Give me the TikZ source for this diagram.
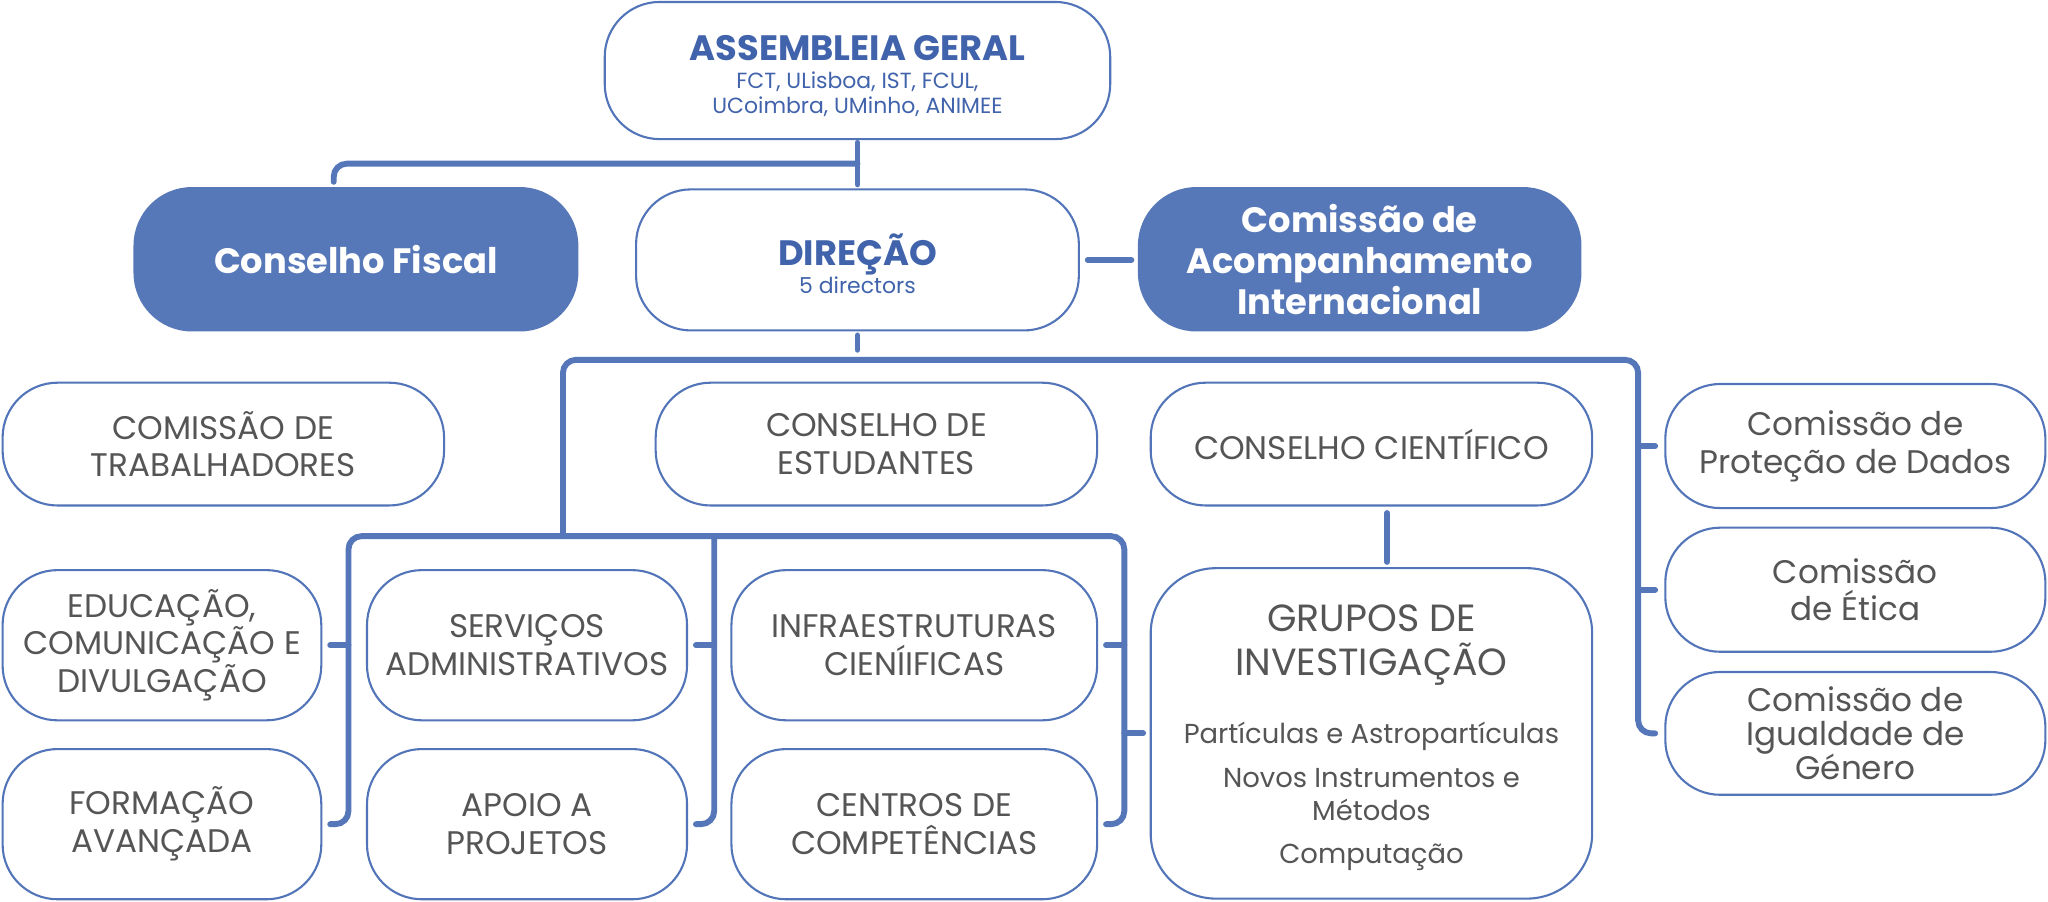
\documentclass[tikz,border=0pt]{standalone}
\usepackage{fontspec}
\setmainfont{Poppins}
\usetikzlibrary{calc}
\definecolor{fillblue}{HTML}{5778B8}
\definecolor{bordblue}{HTML}{5274B8}
\definecolor{connblue}{HTML}{5577B9}
\definecolor{txtblue}{HTML}{4063AC}
\definecolor{txtgray}{HTML}{555555}
\newcommand{\fs}[2]{\fontsize{#1}{#2}\selectfont\lineskiplimit=-60pt\relax}
\tikzset{
  box/.style={draw=bordblue, line width=1.6pt, rounded corners=42pt, fill=white,
    inner sep=0pt, text=txtgray, align=center, font=\fs{25}{29}},
  darkbox/.style={draw=fillblue, line width=1.6pt, rounded corners=44pt, fill=fillblue,
    inner sep=0pt, text=white, align=center, font=\fs{27}{31.5}\bfseries},
  bluetitle/.style={box, text=txtblue, font=\fs{16.8}{19}},
  conn/.style={draw=connblue, line width=4.5pt, line cap=round, rounded corners=10pt},
}
\begin{document}
\begin{tikzpicture}[x=1pt,y=-1pt]
\useasboundingbox[fill=white] (0,0) rectangle (1568,690);
% top
\node[bluetitle, minimum width=387, minimum height=105] (ag) at (656.5,54)
  {\rule{0pt}{28pt}{\fs{27}{30}\bfseries ASSEMBLEIA GERAL}\\[2.5pt]FCT, ULisboa, IST, FCUL,\\UCoimbra, UMinho, ANIMEE};
\node[darkbox, minimum width=339, minimum height=109] (cf) at (272.5,198.5) {Conselho Fiscal};
\node[bluetitle, minimum width=339, minimum height=108] (dir) at (656.5,199)
  {\rule{0pt}{30pt}{\fs{27}{30}\bfseries DIREÇÃO}\\[2pt]5 directors};
\node[darkbox, minimum width=338, minimum height=109] (cai) at (1041,198.5)
  {Comissão de\\Acompanhamento\\Internacional};
% row 1
\node[box, minimum width=338, minimum height=94] (ct) at (171,340) {COMISSÃO DE\\TRABALHADORES};
\node[box, minimum width=338, minimum height=94] (ces) at (671,340) {CONSELHO DE\\ESTUDANTES};
\node[box, minimum width=338, minimum height=94] (cc) at (1050,340) {CONSELHO CIENTÍFICO};
\node[box, minimum width=291, minimum height=95] (cpd) at (1420.5,341.5) {Comissão de\\Proteção de Dados};
\node[box, minimum width=291, minimum height=95] (cet) at (1420.5,451.5) {Comissão\\de Ética};
\node[box, minimum width=291, minimum height=94] (cig) at (1420.5,561.5) {Comissão de\\[-3pt]Igualdade de\\[-3pt]Género};
% row 2/3
\node[box, minimum width=244, minimum height=115] (edu) at (124,494) {EDUCAÇÃO,\\COMUNICAÇÃO E\\DIVULGAÇÃO};
\node[box, minimum width=244, minimum height=115] (form) at (124,631) {FORMAÇÃO\\AVANÇADA};
\node[box, minimum width=245, minimum height=115] (serv) at (403.5,494) {SERVIÇOS\\ADMINISTRATIVOS};
\node[box, minimum width=245, minimum height=115] (apoio) at (403.5,631) {APOIO A\\PROJETOS};
\node[box, minimum width=280, minimum height=115] (infra) at (700,494) {INFRAESTRUTURAS\\CIENÍIFICAS};
\node[box, minimum width=280, minimum height=115] (cent) at (700,631) {CENTROS DE\\COMPETÊNCIAS};
\node[box, minimum width=338, minimum height=253, rounded corners=50pt, font=\fs{21}{25}] (gi) at (1050,561.5)
  {\rule{0pt}{27pt}{\fs{29}{34}GRUPOS DE}\\[9pt]{\fs{29}{34}INVESTIGAÇÃO}\\[27pt]Partículas e Astropartículas\\[9pt]Novos Instrumentos e\\Métodos\\[8pt]Computação};
% junction coordinates
\coordinate (jtop) at ($(ag.south)+(0,18)$);
\coordinate (jmid) at ($(dir.south)+(0,22)$);
\coordinate (jL) at ($(jmid)+(-225.5,0)$);
\coordinate (jR) at ($(cpd.west)+(-20,-66)$);
\coordinate (jB) at ($(jL)+(0,134.5)$);
\coordinate (sL) at ($(edu.east)+(20,-83.5)$);
\coordinate (sM) at ($(serv.east)+(20,-83.5)$);
\coordinate (sR) at ($(infra.east)+(20,-83.5)$);
% connectors top
\draw[conn] ($(ag.south)+(0,2)$) -- ($(dir.north)+(0,-3)$);
\draw[conn] (jtop) -| ($(cf.north)+(-17,-4)$);
\draw[conn] ($(dir.east)+(6,0)$) -- ($(dir.east -| cai.west)+(-5,0)$);
\draw[conn] ($(dir.south)+(0,3)$) -- ($(dir.south)+(0,14)$);
% main spine
\draw[conn] (jB) |- (jR) |- ($(cig.west)+(-7,0)$);
\draw[conn] (jR |- cpd.west) -- ($(cpd.west)+(-7,0)$);
\draw[conn] (jR |- cet.west) -- ($(cet.west)+(-7,0)$);
% lower bracket
\draw[conn] ($(form.east)+(6,0)$) -- (sL |- form.east) -- (sL) -- (sR) -- (sR |- cent.east) -- ($(cent.east)+(6,0)$);
\draw[conn] (sL |- edu.east) -- ($(edu.east)+(6,0)$);
\draw[conn] (sM) |- ($(apoio.east)+(6,0)$);
\draw[conn] (sM |- serv.east) -- ($(serv.east)+(6,0)$);
\draw[conn] (sR |- infra.east) -- ($(infra.east)+(6,0)$);
\draw[conn] (sR |- gi.west) -- ($(gi.west)+(-5,0)$);
% CC to GI
\draw[conn] ($(cc.south)+(12,5)$) -- ($(gi.north)+(12,-4)$);
\end{tikzpicture}
\end{document}
